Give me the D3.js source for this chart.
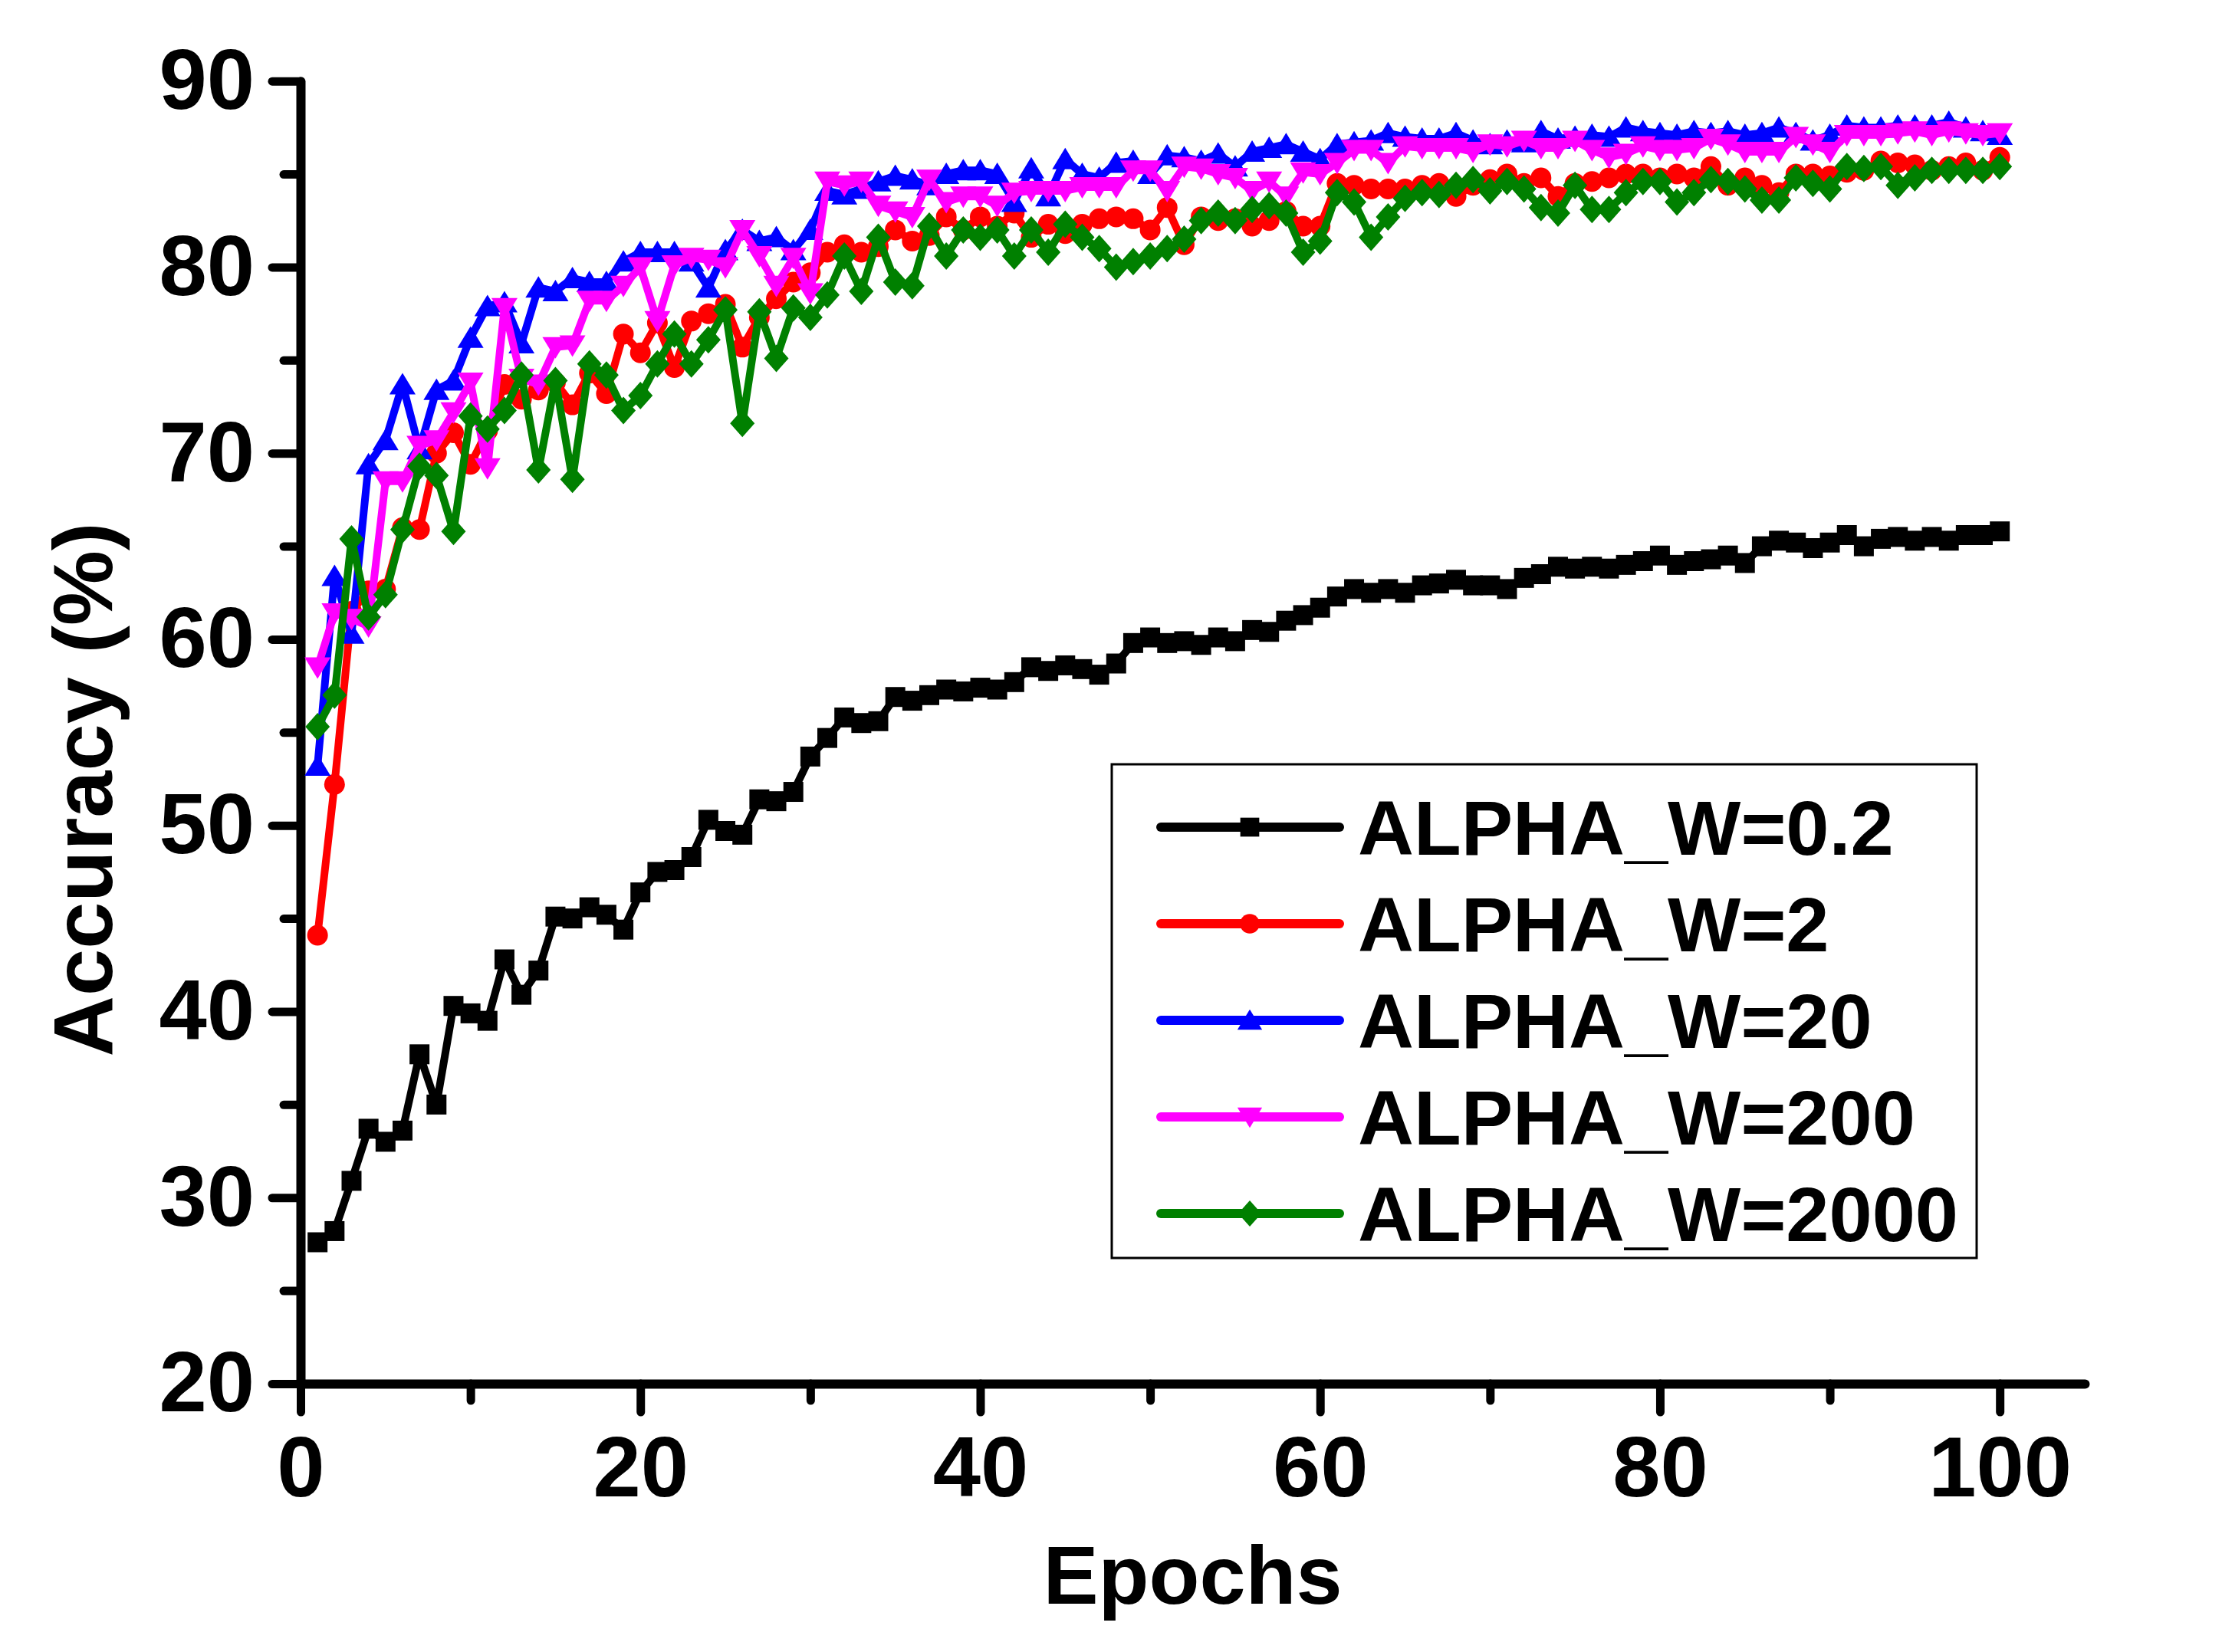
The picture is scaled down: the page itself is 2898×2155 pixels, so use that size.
<!DOCTYPE html>
<html>
<head>
<meta charset="utf-8">
<script src="https://cdn.jsdelivr.net/npm/d3@7"></script>
<style>
  body { margin: 0; background: #fff; }
  svg text { font-family: "Liberation Sans", Arial, sans-serif; font-weight: bold; fill: #000; }
</style>
</head>
<body>
<svg id="chart"></svg>
<script>
// Epoch index shared by all series
var epochs = d3.range(1, 101);

// Test accuracy (%) per epoch
var accW02 = [27.6,28.2,30.9,33.7,33.0,33.6,37.7,35.0,40.3,39.9,
  39.5,42.8,40.9,42.2,45.1,45.0,45.6,45.2,44.4,46.4,
  47.5,47.6,48.3,50.3,49.7,49.5,51.4,51.3,51.8,53.7,
  54.7,55.8,55.5,55.6,56.9,56.7,57.0,57.3,57.2,57.4,
  57.3,57.7,58.5,58.3,58.6,58.4,58.1,58.7,59.8,60.1,
  59.8,59.9,59.7,60.1,59.9,60.5,60.4,61.0,61.3,61.7,
  62.3,62.7,62.5,62.7,62.5,62.9,63.0,63.2,62.9,62.9,
  62.7,63.3,63.5,63.9,63.8,63.9,63.8,64.0,64.2,64.5,
  64.0,64.2,64.3,64.5,64.1,65.0,65.3,65.2,64.9,65.2,
  65.6,65.0,65.4,65.5,65.3,65.5,65.3,65.6,65.6,65.8];

var accW2 = [44.1,52.2,61.5,62.6,62.7,66.0,65.9,70.0,71.1,69.4,
  71.2,73.7,72.9,73.4,73.8,72.6,74.3,73.2,76.4,75.4,
  77.0,74.6,77.1,77.5,78.0,75.7,77.3,78.3,79.2,79.7,
  80.8,81.2,80.8,81.1,82.0,81.4,81.7,82.7,82.0,82.7,
  82.2,82.9,81.6,82.3,81.8,82.3,82.6,82.7,82.6,82.0,
  83.2,81.2,82.7,82.5,82.6,82.2,82.5,83.0,82.2,82.2,
  84.5,84.4,84.2,84.2,84.2,84.4,84.5,83.8,84.4,84.7,
  85.0,84.5,84.8,83.8,84.5,84.6,84.8,85.0,85.0,84.8,
  85.0,84.8,85.4,84.4,84.8,84.4,84.0,85.0,85.0,84.9,
  85.1,85.2,85.7,85.6,85.5,85.2,85.4,85.6,85.2,85.9];

var accW20 = [53.2,63.4,60.3,69.4,70.7,73.7,70.2,73.4,73.9,76.2,
  77.9,78.1,75.9,78.9,78.7,79.4,79.2,79.2,80.3,80.8,
  80.8,80.8,80.3,78.9,80.9,82.0,81.4,81.6,80.9,82.0,
  84.1,83.9,84.2,84.6,84.9,84.7,84.4,85.0,85.2,85.2,
  85.0,83.5,85.3,83.8,85.8,85.0,84.8,85.6,85.7,85.0,
  86.0,85.9,85.7,86.1,85.4,86.2,86.4,86.6,86.2,85.8,
  86.6,86.7,86.8,87.2,87.0,86.9,86.9,87.2,86.8,86.6,
  86.8,86.7,87.3,86.9,87.0,87.1,87.0,87.5,87.3,87.2,
  87.1,87.3,87.2,87.3,87.1,87.2,87.5,87.2,86.8,87.1,
  87.6,87.5,87.5,87.6,87.6,87.6,87.8,87.5,87.3,87.1];

var accW200 = [58.5,61.4,61.1,60.7,68.5,68.5,70.4,70.7,72.2,73.8,
  69.2,77.8,74.0,73.7,75.7,75.8,78.2,78.2,79.0,80.0,
  77.1,80.1,80.5,80.4,80.0,82.0,80.6,79.0,80.5,78.6,
  84.6,84.4,84.6,83.3,83.0,82.7,84.7,83.5,83.8,83.8,
  83.3,84.0,84.1,84.1,84.1,84.3,84.3,84.3,85.2,85.2,
  84.1,85.4,85.3,85.0,84.8,84.1,84.6,83.8,85.1,85.0,
  85.6,86.3,86.3,85.6,86.5,86.4,86.4,86.4,86.2,86.6,
  86.5,86.8,86.4,86.4,86.8,86.3,85.9,86.1,86.5,86.3,
  86.3,86.4,86.9,86.6,86.2,86.2,86.2,87.0,86.6,86.2,
  87.1,87.1,87.1,87.2,87.3,87.1,87.3,87.2,87.1,87.2];

var accW2000 = [55.3,57.0,65.4,61.2,62.4,65.9,69.3,68.8,65.8,72.0,
  71.3,72.3,74.2,69.1,73.9,68.6,74.8,74.2,72.3,73.1,
  74.8,76.4,74.8,76.1,77.7,71.6,77.6,75.1,77.8,77.3,
  78.5,80.6,78.7,81.6,79.2,79.0,82.2,80.6,82.0,81.6,
  82.0,80.6,82.0,80.8,82.3,81.6,81.0,80.0,80.3,80.6,
  81.0,81.5,82.5,82.9,82.5,83.1,83.3,82.9,80.8,81.4,
  84.0,83.5,81.6,82.7,83.7,84.0,83.9,84.4,84.7,84.1,
  84.6,84.2,83.2,82.9,84.4,83.1,83.1,84.0,84.6,84.6,
  83.5,84.0,84.7,84.6,84.2,83.6,83.6,84.8,84.5,84.2,
  85.4,85.3,85.4,84.4,84.8,85.2,85.2,85.2,85.2,85.4];

var seriesNames = ["ALPHA_W=0.2", "ALPHA_W=2", "ALPHA_W=20", "ALPHA_W=200", "ALPHA_W=2000"];
var seriesValues = [accW02, accW2, accW20, accW200, accW2000];

var xMajorTicks = [0, 20, 40, 60, 80, 100];
var xMinorTicks = [10, 30, 50, 70, 90];
var yMajorTicks = [20, 30, 40, 50, 60, 70, 80, 90];
var yMinorTicks = [25, 35, 45, 55, 65, 75, 85];

// styling
var colors = ["#000000", "#ff0000", "#0000ff", "#ff00ff", "#008000"];
var markerKinds = ["square", "circle", "triangleUp", "triangleDown", "diamond"];

var W = 2898, H = 2155;
var svg = d3.select("#chart").attr("width", W).attr("height", H)
  .attr("viewBox", "0 0 " + W + " " + H);

var x = d3.scaleLinear().domain([0, 105]).range([392, 2719]);
var y = d3.scaleLinear().domain([20, 90]).range([1805, 105.7]);

/**
 * Returns an svg path string for a marker centred on 0,0
 * @param {string} kind - marker name
 * @param {float} k - scale factor
 */
function markerPath(kind, k) {
  var p = d3.path();
  if (kind == "square") {
    var s = 13 * k;
    p.rect(-s, -s, 2 * s, 2 * s);
  } else if (kind == "circle") {
    p.arc(0, 0, 13.5 * k, 0, 2 * Math.PI);
  } else if (kind == "triangleUp") {
    p.moveTo(0, -15 * k); p.lineTo(17 * k, 13 * k); p.lineTo(-17 * k, 13 * k);
  } else if (kind == "triangleDown") {
    p.moveTo(0, 15 * k); p.lineTo(17 * k, -13 * k); p.lineTo(-17 * k, -13 * k);
  } else {
    p.moveTo(0, -18 * k); p.lineTo(16 * k, 0); p.lineTo(0, 18 * k); p.lineTo(-16 * k, 0);
  }
  p.closePath();
  return p.toString();
}

// Axes
function styleAxis(g) {
  g.selectAll("path.domain").attr("stroke", "#000").attr("stroke-width", 12)
    .attr("stroke-linecap", "round");
  g.selectAll(".tick line").attr("stroke", "#000").attr("stroke-width", 11)
    .attr("stroke-linecap", "round");
  g.selectAll(".tick text").style("font-size", "112px").attr("fill", "#000");
}

svg.append("g").attr("transform", "translate(0,1805)")
  .call(d3.axisBottom(x).tickValues(xMinorTicks).tickSize(22).tickFormat("").tickSizeOuter(0))
  .call(function(g) { g.select(".domain").remove(); })
  .call(styleAxis);
svg.append("g").attr("transform", "translate(392,0)")
  .call(d3.axisLeft(y).tickValues(yMinorTicks).tickSize(22).tickFormat("").tickSizeOuter(0))
  .call(function(g) { g.select(".domain").remove(); })
  .call(styleAxis);

svg.append("g").attr("transform", "translate(0,1805)")
  .call(d3.axisBottom(x).tickValues(xMajorTicks).tickSize(37).tickPadding(30).tickSizeOuter(0))
  .call(styleAxis);
svg.append("g").attr("transform", "translate(392,0)")
  .call(d3.axisLeft(y).tickValues(yMajorTicks).tickSize(37).tickPadding(23).tickSizeOuter(0))
  .call(styleAxis);

// Axis titles
svg.append("text")
  .attr("x", (x(0) + x(105)) / 2).attr("y", 2092)
  .attr("text-anchor", "middle").style("font-size", "108px")
  .text("Epochs");
svg.append("text")
  .attr("transform", "translate(146,1030) rotate(-90)")
  .attr("text-anchor", "middle").style("font-size", "110px")
  .text("Accuracy (%)");

// Series lines and markers
var line = d3.line()
  .x(function(d) { return x(d[0]); })
  .y(function(d) { return y(d[1]); });

seriesValues.forEach(function(vals, i) {
  var pts = epochs.map(function(e, j) { return [e, vals[j]]; });
  var g = svg.append("g").attr("class", "series");
  g.append("path").datum(pts)
    .attr("d", line)
    .attr("fill", "none")
    .attr("stroke", colors[i])
    .attr("stroke-width", 10)
    .attr("stroke-linejoin", "round");
  g.selectAll("path.marker")
    .data(pts)
    .enter()
    .append("path")
    .attr("class", "marker")
    .attr("d", markerPath(markerKinds[i], 1))
    .attr("transform", function(d) { return "translate(" + x(d[0]) + "," + y(d[1]) + ")"; })
    .attr("fill", colors[i]);
});

// Legend
var legend = svg.append("g").attr("class", "legend");
legend.append("rect")
  .attr("x", 1450).attr("y", 997).attr("width", 1128).attr("height", 644)
  .attr("fill", "#fff").attr("stroke", "#000").attr("stroke-width", 3);

var rowY = d3.scaleLinear().domain([0, 4]).range([1079, 1583]);
seriesNames.forEach(function(name, i) {
  var cy = rowY(i);
  legend.append("line")
    .attr("x1", 1514).attr("x2", 1747).attr("y1", cy).attr("y2", cy)
    .attr("stroke", colors[i]).attr("stroke-width", 12).attr("stroke-linecap", "round");
  legend.append("path")
    .attr("d", markerPath(markerKinds[i], 0.95))
    .attr("transform", "translate(1630," + cy + ")")
    .attr("fill", colors[i]);
  legend.append("text")
    .attr("x", 1771).attr("y", cy + 36)
    .style("font-size", "101px")
    .text(name);
});
</script>
</body>
</html>
